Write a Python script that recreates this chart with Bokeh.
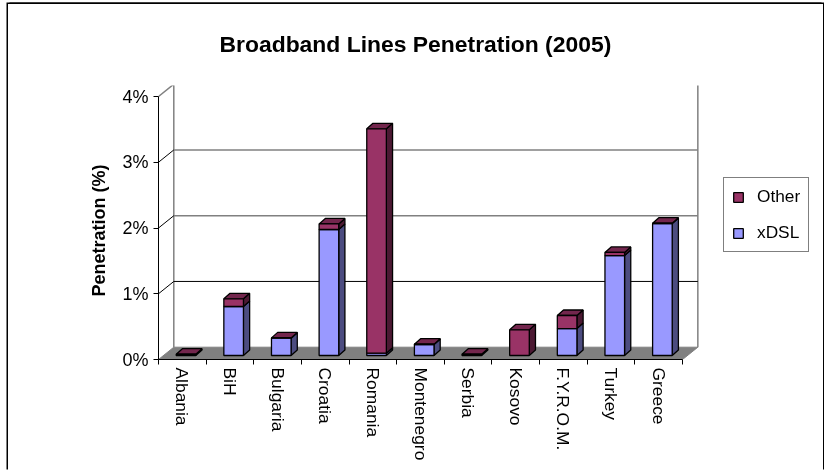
import math
from bokeh.plotting import figure
from bokeh.models import FixedTicker, Range1d, Legend, LegendItem, PrintfTickFormatter, Title
from bokeh.embed import file_html
from bokeh.resources import INLINE

categories = ["Albania", "BiH", "Bulgaria", "Croatia", "Romania", "Montenegro",
              "Serbia", "Kosovo", "F.Y.R.O.M.", "Turkey", "Greece"]
xdsl = [0.0, 0.745, 0.263, 1.916, 0.035, 0.167, 0.0, 0.0, 0.41, 1.52, 2.007]
other = [0.02, 0.117, 0.005, 0.085, 3.412, 0.005, 0.02, 0.39, 0.198, 0.047, 0.005]
y_ticks = [0, 1, 2, 3, 4]

BLUE, BLUE_SIDE = "#9999FF", "#4C4C80"
PURPLE, PURPLE_SIDE, PURPLE_TOP = "#993366", "#4C1933", "#73264D"
WALL_GRAY, FLOOR_GRAY = "#808080", "#808080"
FONT = "Liberation Sans"

PX_X, PX_Y = 47.64, 65.75            # pixels per category / per percent
WALL_DX, WALL_DY = 15.3 / PX_X, 12.3 / PX_Y
BAR_DX, BAR_DY = 6.2 / PX_X, 5.5 / PX_Y
BAR_L, BAR_W = 17.7 / PX_X, 19.6 / PX_X
BASE = 4.0 / PX_Y

n = len(categories)
p = figure(width=815, height=467, output_backend="svg", toolbar_location=None,
           x_range=Range1d(0, 657 / PX_X), y_range=Range1d(0, 274 / PX_Y),
           min_border_left=150, min_border_right=8, min_border_top=81, min_border_bottom=112,
           title="Broadband Lines Penetration (2005)",
           styles={"position": "fixed", "left": "8px", "top": "4px",
                   "box-shadow": "-1.5px -1.5px 0 black, 1.5px -1.5px 0 black"})
p.outline_line_color = None
p.grid.visible = False
p.title.text_font = FONT
p.title.text_font_size = "22.9px"
p.title.text_font_style = "bold"
p.title.text_color = "black"
p.title.align = "left"
p.title.vertical_align = "top"
p.title.offset = 61
p.title.standoff = 53

# floor
p.patch([0, n, n + WALL_DX, WALL_DX], [0, 0, WALL_DY, WALL_DY],
        fill_color=FLOOR_GRAY, line_color=WALL_GRAY, line_width=1)
# back wall frame and grid
top = y_ticks[-1]
p.line([WALL_DX, WALL_DX, n + WALL_DX, n + WALL_DX],
       [WALL_DY, top + WALL_DY, top + WALL_DY, WALL_DY], line_color=WALL_GRAY, line_width=1.5)
grid_cols = ["black", WALL_GRAY, WALL_GRAY]
for t, c, w in zip(y_ticks[1:4], grid_cols, [1, 1.6, 1.6]):
    p.line([WALL_DX, n + WALL_DX], [t + WALL_DY, t + WALL_DY], line_color=c, line_width=w)
    p.line([0, WALL_DX], [t, t + WALL_DY], line_color="black", line_width=1)
p.line([0, WALL_DX], [top, top + WALL_DY], line_color=WALL_GRAY, line_width=1.5)

# bars
xs_side, ys_side, col_side = [], [], []
xs_top, ys_top = [], []
qb = {"l": [], "r": [], "b": [], "t": []}
qo = {"l": [], "r": [], "b": [], "t": []}
for i, (a, b) in enumerate(zip(xdsl, other)):
    l = i + BAR_L
    r = l + BAR_W
    y0, y1, y2 = BASE, BASE + a, BASE + a + b
    if a > 0:
        xs_side.append([r, r + BAR_DX, r + BAR_DX, r])
        ys_side.append([y0, y0 + BAR_DY, y1 + BAR_DY, y1])
        col_side.append(BLUE_SIDE)
        qb["l"].append(l); qb["r"].append(r); qb["b"].append(y0); qb["t"].append(y1)
    xs_side.append([r, r + BAR_DX, r + BAR_DX, r])
    ys_side.append([y1, y1 + BAR_DY, y2 + BAR_DY, y2])
    col_side.append(PURPLE_SIDE)
    qo["l"].append(l); qo["r"].append(r); qo["b"].append(y1); qo["t"].append(y2)
    xs_top.append([l, r, r + BAR_DX, l + BAR_DX])
    ys_top.append([y2, y2, y2 + BAR_DY, y2 + BAR_DY])

p.patches(xs_side, ys_side, fill_color=col_side, line_color="black", line_width=1.3)
p.patches(xs_top, ys_top, fill_color=PURPLE_TOP, line_color="black", line_width=1.3)
r_b = p.quad(left=qb["l"], right=qb["r"], bottom=qb["b"], top=qb["t"],
             fill_color=BLUE, line_color="black", line_width=1.3)
r_o = p.quad(left=qo["l"], right=qo["r"], bottom=qo["b"], top=qo["t"],
             fill_color=PURPLE, line_color="black", line_width=1.3)

# axes
xa = p.below[0]
xa.bounds = (0, n)
centers = [i + 0.5 for i in range(n)]
xa.ticker = FixedTicker(ticks=centers, minor_ticks=list(range(n + 1)))
xa.major_label_overrides = {c: s for c, s in zip(centers, categories)}
xa.major_tick_line_color = None
xa.major_tick_out = 0
xa.major_tick_in = 0
xa.minor_tick_out = 5
xa.minor_tick_in = 0
xa.minor_tick_line_color = "black"
xa.axis_line_color = "black"
xa.major_label_orientation = -math.pi / 2
xa.major_label_standoff = 3
xa.major_label_text_font = FONT
xa.major_label_text_font_size = "17.4px"
xa.major_label_text_color = "black"

ya = p.yaxis[0]
ya.bounds = (0, top)
ya.ticker = FixedTicker(ticks=y_ticks)
ya.formatter = PrintfTickFormatter(format="%d%%")
ya.minor_tick_line_color = None
ya.major_tick_out = 5
ya.major_tick_in = 0
ya.major_tick_line_color = "black"
ya.axis_line_color = "black"
ya.major_label_text_font = FONT
ya.major_label_text_font_size = "18px"
ya.major_label_text_color = "black"
ya.major_label_standoff = 5

# y-axis title, placed off-centre along the axis as in the reference
p.add_layout(Title(text="Penetration (%)", align="left", offset=63, standoff=22,
                   text_font=FONT, text_font_size="18px", text_font_style="bold",
                   text_color="black"), "left")

# legend
legend = Legend(items=[LegendItem(label="Other", renderers=[r_o]),
                       LegendItem(label="xDSL", renderers=[r_b])],
                location=(565, 107), orientation="vertical",
                glyph_width=12, glyph_height=12, label_standoff=13, spacing=15,
                padding=8, margin=0, label_height=17,
                border_line_color="black", border_line_width=1,
                label_text_font=FONT, label_text_font_size="17.3px", label_text_color="black",
                background_fill_alpha=1)
p.add_layout(legend)

open("out.html", "w").write(file_html(p, INLINE))
